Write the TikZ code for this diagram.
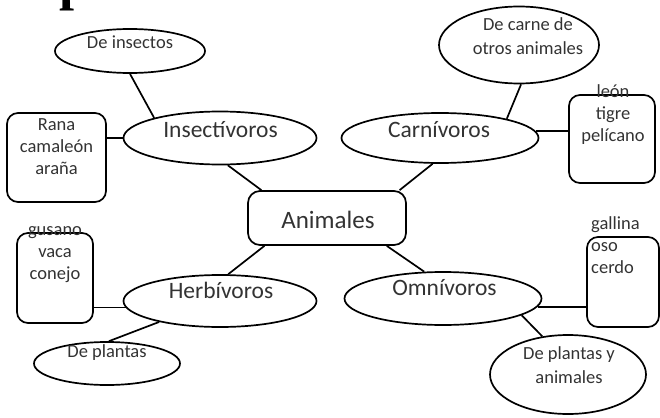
\documentclass[tikz,border=0pt]{standalone}
\usepackage{fontspec}
\setmainfont{Carlito}
\usetikzlibrary{shapes.geometric}

\tikzset{
  oval/.style={draw, ellipse, line width=1.7pt, inner sep=0pt},
  card/.style={draw, rectangle, rounded corners=11pt, line width=1.7pt, inner sep=0pt},
  big/.style={font=\fontsize{23.5}{28}\selectfont, text=black!80, inner sep=0pt},
  small/.style={font=\fontsize{18.5}{22}\selectfont, text=black!80, align=center, inner sep=0pt},
  link/.style={line width=1.7pt},
}

\begin{document}
\begin{tikzpicture}[x=1pt,y=-1pt]
    \useasboundingbox (0,0) rectangle (660,417);
    \node[anchor=base west, inner sep=0pt, font=\fontspec{Liberation Serif}\bfseries\fontsize{54}{60}\selectfont] (ttl) at (59,0) {p};
    % shapes
    \node[card, rounded corners=12pt, minimum width=158pt, minimum height=54pt] (ani) at (327,218) {};
    \node[oval, minimum width=193pt, minimum height=53pt] (ins) at (220,138) {};
    \node[oval, minimum width=197pt, minimum height=50pt] (car) at (440,138) {};
    \node[oval, minimum width=193pt, minimum height=52pt] (her) at (220,301) {};
    \node[oval, minimum width=197pt, minimum height=53pt] (omn) at (443,298.5) {};
    \node[oval, minimum width=150pt, minimum height=44pt] (dins) at (130,51) {};
    \node[oval, minimum width=160pt, minimum height=77pt] (dcar) at (519,45) {};
    \node[oval, minimum width=146pt, minimum height=43pt] (dpl) at (107,363.5) {};
    \node[oval, minimum width=156pt, minimum height=79pt] (dpa) at (568,374.5) {};
    \node[card, minimum width=99pt, minimum height=89pt] (rana) at (56.5,157.5) {};
    \node[card, minimum width=86pt, minimum height=88pt] (leon) at (612,139) {};
    \node[card, minimum width=76pt, minimum height=90pt] (gus) at (55,278) {};
    \node[card, minimum width=72pt, minimum height=90pt] (gal) at (623,282) {};
    % texts
    \node[big, font=\fontsize{25}{30}\selectfont] (ani-t) at (328,220) {Animales};
    \node[big] (ins-t) at (220.5,130) {Insectívoros};
    \node[big] (car-t) at (439,130) {Carnívoros};
    \node[big] (her-t) at (221,290) {Herbívoros};
    \node[big] (omn-t) at (444.5,288) {Omnívoros};
    \node[small] (dins-t) at (130,42) {De insectos};
    \node[small, font=\fontsize{18.5}{24}\selectfont] (dcar-t) at (528,36) {De carne de\\otros animales};
    \node[small] (dpl-t) at (107,353) {De plantas};
    \node[small, font=\fontsize{18.5}{24}\selectfont] (dpa-t) at (569,365) {De plantas y\\animales};
    \node[small] (rana-t) at (56.5,146.5) {Rana\\camaleón\\araña};
    \node[small] (leon-t) at (613,115) {león\\tigre\\pelícano};
    \node[small] (gus-t) at (55,255) {gusano\\vaca\\conejo};
    \node[small, align=left, anchor=west] (gal-t) at (591,245) {gallina\\oso\\cerdo};
    % links
    \draw[link] (dins.south) -- (ins.163);
    \draw[link] (ins.west) -- (ins.west -| rana.east);
    \draw[link] (ins.-74) -- (ani.157);
    \draw[link] (dcar.-87) -- (car.16);
    \draw[link] (car.4) -- (car.4 -| leon.west);
    \draw[link] (car.-106) -- (ani.21);
    \draw[link] (ani.-156) -- (her.73);
    \draw[link] (her.-176) -- (her.-176 -| gus.east);
    \draw[link] (her.-161) -- (dpl.85);
    \draw[link] (ani.-25) -- (omn.125);
    \draw[link] (omn.-5) -- (omn.-5 -| gal.west);
    \draw[link] (omn.-12) -- (dpa.124);
\end{tikzpicture}
\end{document}
